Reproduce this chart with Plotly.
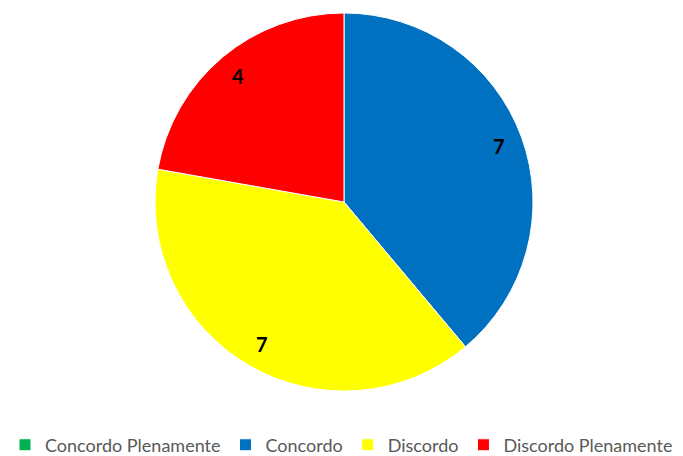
import math
import plotly.graph_objects as go

# Survey responses
categories = ["Concordo Plenamente", "Concordo", "Discordo", "Discordo Plenamente"]
counts = [0, 7, 7, 4]
colors = ["#00B050", "#0070C0", "#FFFF00", "#FF0000"]

W, H = 683, 456
dom_x = [0.2269, 0.7804]
dom_y = [0.1425, 0.9715]

fig = go.Figure(
    go.Pie(
        labels=categories,
        values=counts,
        marker=dict(colors=colors, line=dict(color="white", width=1)),
        sort=False,
        direction="clockwise",
        rotation=0,
        textinfo="none",
        hoverinfo="label+value",
        domain=dict(x=dom_x, y=dom_y),
        showlegend=True,
    )
)

# Value labels placed near the outer edge of each slice
cx = (dom_x[0] + dom_x[1]) / 2 * W
cy = (1 - (dom_y[0] + dom_y[1]) / 2) * H
radius = min((dom_x[1] - dom_x[0]) * W, (dom_y[1] - dom_y[0]) * H) / 2
total = sum(counts)
start = 0.0
for cat, v in zip(categories, counts):
    if v > 0:
        mid = (start + v / 2) / total * 2 * math.pi
        px = cx + 0.87 * radius * math.sin(mid)
        py = cy - 0.87 * radius * math.cos(mid)
        fig.add_annotation(
            x=px / W, y=1 - py / H, xref="paper", yref="paper",
            xanchor="center", yanchor="middle",
            text=f"<b>{v}</b>", showarrow=False,
            font=dict(family="Lato, Open Sans, Arial, sans-serif", size=20, color="black"),
        )
    start += v

fig.update_layout(
    width=W, height=H,
    margin=dict(l=0, r=0, t=0, b=0, autoexpand=False),
    paper_bgcolor="white",
    plot_bgcolor="white",
    font=dict(family="Lato, Open Sans, Arial, sans-serif", color="#595959"),
    legend=dict(
        orientation="h",
        x=0.5, xanchor="center",
        y=0.024, yanchor="middle",
        font=dict(size=18, color="#595959"),
        itemwidth=30,
        traceorder="normal",
    ),
)

fig.write_html("out.html")
